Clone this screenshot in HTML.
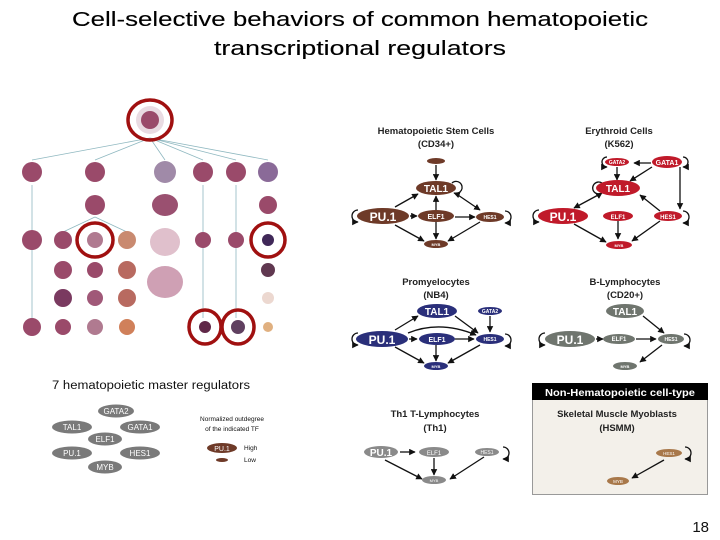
<!DOCTYPE html>
<html><head><meta charset="utf-8"><style>
html,body{margin:0;padding:0;background:#fff;width:720px;height:540px;overflow:hidden}
svg{display:block}
.t{font-family:"Liberation Sans",Arial,sans-serif}
.c{font-family:"Liberation Sans",Arial,sans-serif}
</style></head><body>
<svg width="720" height="540" viewBox="0 0 720 540" xmlns="http://www.w3.org/2000/svg">
<defs>
<marker id="a" viewBox="0 0 10 10" refX="9" refY="5" markerWidth="5" markerHeight="5" orient="auto"><path d="M0,0L10,5L0,10z" fill="#111"/></marker>
</defs>
<text class="t" x="360" y="26" font-size="20" text-anchor="middle" textLength="576" lengthAdjust="spacingAndGlyphs" stroke="#000" stroke-width="0.12">Cell-selective behaviors of common hematopoietic</text>
<text class="t" x="360" y="55" font-size="20" text-anchor="middle" textLength="292" lengthAdjust="spacingAndGlyphs" stroke="#000" stroke-width="0.12">transcriptional regulators</text>

<rect x="532.5" y="383.5" width="175" height="111" fill="#f3f0ea" stroke="#999"/>
<rect x="532" y="383" width="176" height="17" fill="#000"/>
<text class="c" x="620" y="396" font-size="10.5" font-weight="bold" fill="#fff" text-anchor="middle" textLength="150" lengthAdjust="spacingAndGlyphs">Non-Hematopoietic cell-type</text>

<g stroke="#8fb8c0" stroke-width="0.8" fill="none">
<path d="M150,138 L32,160 M150,138 L95,160 M150,138 L165,160 M150,138 L203,160 M150,138 L236,160 M150,138 L268,160"/>
<path d="M32,185 V320 M95,217 L63,232 M95,217 L127,232 M203,185 V318 M236,185 V318"/>
</g>
<g fill="#e9dbe2"><circle cx="150" cy="120" r="14"/></g>
<g fill="#9a4a6a">
<circle cx="150" cy="120" r="9"/>
<circle cx="32" cy="172" r="10"/><circle cx="95" cy="172" r="10"/><circle cx="165" cy="172" r="11" fill="#a08aa8"/><circle cx="203" cy="172" r="10"/><circle cx="236" cy="172" r="10"/><circle cx="268" cy="172" r="10" fill="#8a6a98"/>
<circle cx="95" cy="205" r="10"/><ellipse cx="165" cy="205" rx="13" ry="11" fill="#9a5070"/><circle cx="268" cy="205" r="9"/>
<circle cx="32" cy="240" r="10"/><circle cx="63" cy="240" r="9"/><circle cx="95" cy="240" r="8" fill="#b07a90"/><circle cx="127" cy="240" r="9" fill="#c98a70"/><ellipse cx="165" cy="242" rx="15" ry="14" fill="#e0c0cc"/><circle cx="203" cy="240" r="8"/><circle cx="236" cy="240" r="8"/><circle cx="268" cy="240" r="6" fill="#402858"/>
<circle cx="63" cy="270" r="9"/><circle cx="95" cy="270" r="8"/><circle cx="127" cy="270" r="9" fill="#b86a60"/><ellipse cx="165" cy="282" rx="18" ry="16" fill="#cfa0b4"/><circle cx="268" cy="270" r="7" fill="#603850"/>
<circle cx="63" cy="298" r="9" fill="#7a3a60"/><circle cx="95" cy="298" r="8" fill="#a05878"/><circle cx="127" cy="298" r="9" fill="#b86a60"/><circle cx="268" cy="298" r="6" fill="#ecd8d0"/>
<circle cx="32" cy="327" r="9"/><circle cx="63" cy="327" r="8"/><circle cx="95" cy="327" r="8" fill="#b07a90"/><circle cx="127" cy="327" r="8" fill="#d0805a"/><circle cx="205" cy="327" r="6" fill="#602848"/><circle cx="238" cy="327" r="7" fill="#604060"/><circle cx="268" cy="327" r="5" fill="#e0b080"/>
</g>
<g fill="none" stroke="#a01010" stroke-width="3.5">
<ellipse cx="150" cy="120" rx="22" ry="20"/>
<ellipse cx="95" cy="240" rx="18" ry="17"/>
<ellipse cx="268" cy="240" rx="17" ry="17"/>
<ellipse cx="205" cy="327" rx="16" ry="17"/>
<ellipse cx="238" cy="327" rx="16" ry="17"/>
</g>

<g class="c" font-size="9.5" font-weight="bold" text-anchor="middle" fill="#222">
<text x="436" y="134">Hematopoietic Stem Cells</text><text x="436" y="147">(CD34+)</text>
<text x="619" y="134">Erythroid Cells</text><text x="619" y="147">(K562)</text>
<text x="436" y="285">Promyelocytes</text><text x="436" y="298">(NB4)</text>
<text x="625" y="285">B-Lymphocytes</text><text x="625" y="298">(CD20+)</text>
<text x="435" y="417">Th1 T-Lymphocytes</text><text x="435" y="431">(Th1)</text>
<text x="617" y="417">Skeletal Muscle Myoblasts</text><text x="617" y="431">(HSMM)</text>
</g>

<g stroke="#111" stroke-width="1.3" fill="none" marker-end="url(#a)">
<path d="M436,165V180"/><path d="M395,207L418,194"/><path d="M436,210V196"/><path d="M455,193L480,210"/><path d="M410,216H417"/><path d="M455,217H475"/><path d="M436,222V239"/><path d="M395,225L424,241"/><path d="M480,222L448,241"/>
<path d="M358,210a6,6 0 1 0 0,12"/><path d="M505,211a6,6 0 1 1 0,12"/><path d="M452,183a6,6 0 1 1 2,10"/>
</g>
<g fill="#6e3a28"><ellipse cx="436" cy="161" rx="9" ry="3"/><ellipse cx="436" cy="188" rx="20" ry="7"/><ellipse cx="383" cy="216" rx="26" ry="8"/><ellipse cx="436" cy="216" rx="18" ry="6"/><ellipse cx="490" cy="217" rx="14" ry="5"/><ellipse cx="436" cy="244" rx="12" ry="4"/></g>
<g class="c" fill="#fff" text-anchor="middle" font-weight="bold"><text x="436" y="192" font-size="10">TAL1</text><text x="383" y="221" font-size="12">PU.1</text><text x="436" y="219" font-size="7">ELF1</text><text x="490" y="219" font-size="5">HES1</text><text x="436" y="246" font-size="4">MYB</text></g>

<g stroke="#111" stroke-width="1.3" fill="none" marker-end="url(#a)">
<path d="M651,163H634"/><path d="M617,167V180"/><path d="M652,167L630,181"/><path d="M680,167V209"/><path d="M660,211L640,195"/><path d="M600,194L574,208"/><path d="M618,221V239"/><path d="M574,224L606,242"/><path d="M660,221L632,241"/>
<path d="M539,210a6,6 0 1 0 0,12"/><path d="M683,211a6,6 0 1 1 0,12"/><path d="M602,183a6,6 0 1 0 0,10"/><path d="M607,157a5,5 0 1 0 0,10"/><path d="M683,157a5,5 0 1 1 0,10"/>
</g>
<g fill="#c01a2a"><ellipse cx="617" cy="162" rx="12" ry="4"/><ellipse cx="667" cy="162" rx="15" ry="6"/><ellipse cx="618" cy="188" rx="22" ry="8"/><ellipse cx="563" cy="216" rx="25" ry="8"/><ellipse cx="618" cy="216" rx="15" ry="5"/><ellipse cx="668" cy="216" rx="14" ry="5"/><ellipse cx="619" cy="245" rx="13" ry="4"/></g>
<g class="c" fill="#fff" text-anchor="middle" font-weight="bold"><text x="618" y="192" font-size="10">TAL1</text><text x="563" y="221" font-size="12">PU.1</text><text x="667" y="165" font-size="7">GATA1</text><text x="618" y="219" font-size="6">ELF1</text><text x="668" y="219" font-size="6">HES1</text><text x="617" y="164" font-size="5">GATA2</text><text x="619" y="247" font-size="4">MYB</text></g>

<g stroke="#111" stroke-width="1.3" fill="none" marker-end="url(#a)">
<path d="M395,330L418,316"/><path d="M455,316L478,333"/><path d="M490,316V332"/><path d="M408,333Q440,320 476,335"/><path d="M409,339H417"/><path d="M455,339H474"/><path d="M436,345V361"/><path d="M395,347L424,363"/><path d="M480,345L448,363"/>
<path d="M358,333a6,6 0 1 0 0,12"/><path d="M505,334a6,6 0 1 1 0,12"/>
</g>
<g fill="#2a2f7a"><ellipse cx="437" cy="311" rx="20" ry="7"/><ellipse cx="490" cy="311" rx="12" ry="4"/><ellipse cx="382" cy="339" rx="26" ry="8"/><ellipse cx="437" cy="339" rx="18" ry="6"/><ellipse cx="490" cy="339" rx="14" ry="5"/><ellipse cx="436" cy="366" rx="12" ry="4"/></g>
<g class="c" fill="#fff" text-anchor="middle" font-weight="bold"><text x="437" y="315" font-size="10">TAL1</text><text x="382" y="344" font-size="12">PU.1</text><text x="437" y="342" font-size="7">ELF1</text><text x="490" y="341" font-size="5">HES1</text><text x="490" y="313" font-size="5">GATA2</text><text x="436" y="368" font-size="4">MYB</text></g>

<g stroke="#111" stroke-width="1.3" fill="none" marker-end="url(#a)">
<path d="M643,316L664,333"/><path d="M596,339H603"/><path d="M636,339H656"/><path d="M662,345L640,362"/><path d="M545,333a6,6 0 1 0 0,12"/><path d="M684,334a6,6 0 1 1 0,12"/>
</g>
<g fill="#6f756e"><ellipse cx="625" cy="311" rx="19" ry="7"/><ellipse cx="570" cy="339" rx="25" ry="8"/><ellipse cx="619" cy="339" rx="16" ry="5"/><ellipse cx="671" cy="339" rx="13" ry="5"/><ellipse cx="625" cy="366" rx="12" ry="4"/></g>
<g class="c" fill="#fff" text-anchor="middle" font-weight="bold"><text x="625" y="315" font-size="10">TAL1</text><text x="570" y="344" font-size="12">PU.1</text><text x="619" y="341" font-size="6">ELF1</text><text x="671" y="341" font-size="5">HES1</text><text x="625" y="368" font-size="4">MYB</text></g>

<g stroke="#111" stroke-width="1.3" fill="none" marker-end="url(#a)">
<path d="M400,452H415"/><path d="M434,458V475"/><path d="M385,460L422,479"/><path d="M484,457L450,479"/><path d="M503,447a6,6 0 1 1 0,12"/>
</g>
<g fill="#8a8a8a"><ellipse cx="381" cy="452" rx="17" ry="6"/><ellipse cx="434" cy="452" rx="15" ry="5"/><ellipse cx="487" cy="452" rx="12" ry="4"/><ellipse cx="434" cy="480" rx="12" ry="4"/></g>
<g class="c" fill="#fff" text-anchor="middle"><text x="381" y="456" font-size="10" font-weight="bold">PU.1</text><text x="434" y="455" font-size="6">ELF1</text><text x="487" y="454" font-size="5">HES1</text><text x="434" y="482" font-size="4">MYB</text></g>

<g stroke="#111" stroke-width="1.3" fill="none" marker-end="url(#a)"><path d="M664,460L632,478"/><path d="M685,447a6,6 0 1 1 0,12"/></g>
<g fill="#a8784a"><ellipse cx="669" cy="453" rx="13" ry="4"/><ellipse cx="618" cy="481" rx="11" ry="4"/></g>
<g class="c" fill="#fff" text-anchor="middle" font-size="4.5"><text x="669" y="455">HES1</text><text x="618" y="483">MYB</text></g>

<text class="c" x="52" y="389" font-size="11.5" fill="#111" textLength="198" lengthAdjust="spacingAndGlyphs">7 hematopoietic master regulators</text>
<g fill="#7a7a7a"><ellipse cx="116" cy="411" rx="18" ry="6.5"/><ellipse cx="72" cy="427" rx="20" ry="6.5"/><ellipse cx="140" cy="427" rx="20" ry="6.5"/><ellipse cx="105" cy="439" rx="17" ry="6.5"/><ellipse cx="72" cy="453" rx="20" ry="6.5"/><ellipse cx="140" cy="453" rx="20" ry="6.5"/><ellipse cx="105" cy="467" rx="17" ry="6.5"/></g>
<g class="c" fill="#fff" text-anchor="middle" font-size="8"><text x="116" y="414">GATA2</text><text x="72" y="430">TAL1</text><text x="140" y="430">GATA1</text><text x="105" y="442">ELF1</text><text x="72" y="456">PU.1</text><text x="140" y="456">HES1</text><text x="105" y="470">MYB</text></g>
<g class="c" font-size="6.5" fill="#111" text-anchor="middle"><text x="232" y="421">Normalized outdegree</text><text x="232" y="431">of the indicated TF</text></g>
<ellipse cx="222" cy="448" rx="15" ry="5" fill="#6e3a28"/><text class="c" x="222" y="451" font-size="7" fill="#fff" text-anchor="middle">PU.1</text>
<ellipse cx="222" cy="460" rx="6" ry="2" fill="#6e3a28"/>
<g class="c" font-size="6.5" fill="#111"><text x="244" y="450">High</text><text x="244" y="462">Low</text></g>

<text class="t" x="709" y="532" font-size="15" fill="#111" text-anchor="end">18</text>
</svg>
</body></html>
